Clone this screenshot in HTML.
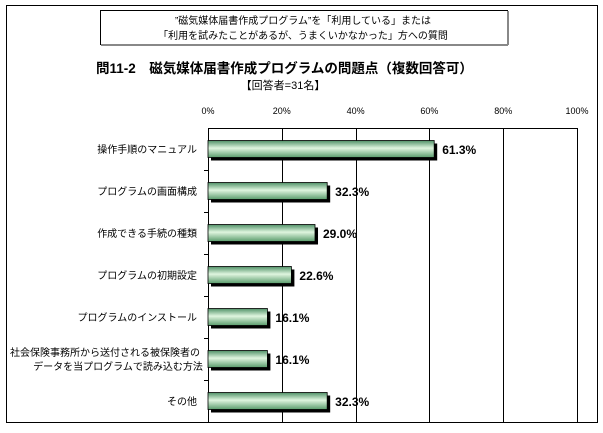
<!DOCTYPE html>
<html><head><meta charset="utf-8"><style>
body{margin:0;background:#fff;width:603px;height:428px;overflow:hidden;font-family:"Liberation Sans","Noto Sans CJK JP",sans-serif}
</style></head><body>
<svg width="603" height="428" xmlns="http://www.w3.org/2000/svg">
<defs><linearGradient id="g" x1="0" y1="0" x2="0" y2="1">
<stop offset="0" stop-color="#4f9166"/><stop offset="0.45" stop-color="#dff5df"/><stop offset="1" stop-color="#5a9c6c"/></linearGradient></defs>
<rect x="6.5" y="5.5" width="591" height="417" fill="#fff" stroke="#000"/>
<rect x="100.5" y="10.5" width="407" height="34" fill="#fff" stroke="#000" stroke-width="1"/>
<line x1="101" y1="45" x2="508" y2="45" stroke="#888" stroke-width="2"/>
<line x1="508" y1="11" x2="508" y2="45" stroke="#888" stroke-width="2"/>
<text x="303" y="24" font-size="10" text-anchor="middle">”磁気媒体届書作成プログラム”を「利用している」または</text>
<text x="303" y="39" font-size="10" text-anchor="middle">「利用を試みたことがあるが、うまくいかなかった」方への質問</text>
<text x="96" y="73" font-size="13.5" font-weight="bold">問11-2　磁気媒体届書作成プログラムの問題点（複数回答可）</text>
<text x="283" y="89" font-size="11" text-anchor="middle">【回答者=31名】</text>
<g id="axis"></g><g id="bars"></g>
</svg>
<script>
const categories=["操作手順のマニュアル","プログラムの画面構成","作成できる手続の種類","プログラムの初期設定","プログラムのインストール",["社会保険事務所から送付される被保険者の","データを当プログラムで読み込む方法"],"その他"];
const values=[61.3,32.3,29.0,22.6,16.1,16.1,32.3];
const ticks=[0,20,40,60,80,100];
const NS="http://www.w3.org/2000/svg";
const xL=208,xR=577,yTop=128,yBot=422;
const xs=v=>xL+(xR-xL)*v/100;
const rowH=(yBot-yTop)/categories.length;
const ys=i=>yTop+rowH*(i+0.5);
function mk(t,a,p){const e=document.createElementNS(NS,t);for(const k in a)e.setAttribute(k,a[k]);p.appendChild(e);return e;}
const ax=document.getElementById('axis'),bg=document.getElementById('bars');
const fr=mk('rect',{x:xL+.5,y:yTop+.5,width:xR-xL,height:yBot-yTop,fill:'none',stroke:'#000'},ax);


ticks.forEach(t=>{
 const x=Math.round(xs(t))+.5;
 if(t>0&&t<100){const l=mk('line',{x1:x,x2:x,y1:yTop,y2:yBot,stroke:'#000'},ax);
 
 }
 const tx=mk('text',{x:xs(t),y:114,'font-size':9,'text-anchor':'middle'},ax);tx.textContent=t+'%';
 
 
});
for(let i=1;i<categories.length;i++){const y=Math.round(yTop+rowH*i)+.5;mk('line',{x1:xL-4,x2:xL,y1:y,y2:y,stroke:'#000'},ax);}
categories.forEach((c,i)=>{
 const y=ys(i),w=xs(values[i])-xL,h=17;
 mk('rect',{x:xL+3,y:y-h/2+3,width:w,height:h,fill:'#000'},bg);
 const r=mk('rect',{x:xL,y:y-h/2,width:w,height:h,fill:'url(#g)',stroke:'#000','stroke-width':.8},bg);
 
 
 const v=mk('text',{x:xs(values[i])+8,y:y+5,'font-size':12,'font-weight':'bold'},bg);v.textContent=values[i].toFixed(1)+'%';
 
 
 const lines=Array.isArray(c)?c:[c];
 lines.forEach((s,j)=>{const t=mk('text',{x:Array.isArray(c)?(j==0?200:118):197,y:y+4+(j-(lines.length-1)/2)*14,'font-size':10,'text-anchor':Array.isArray(c)?(j==0?'end':'middle'):'end'},bg);t.textContent=s;
 
 });
});
</script>
</body></html>
